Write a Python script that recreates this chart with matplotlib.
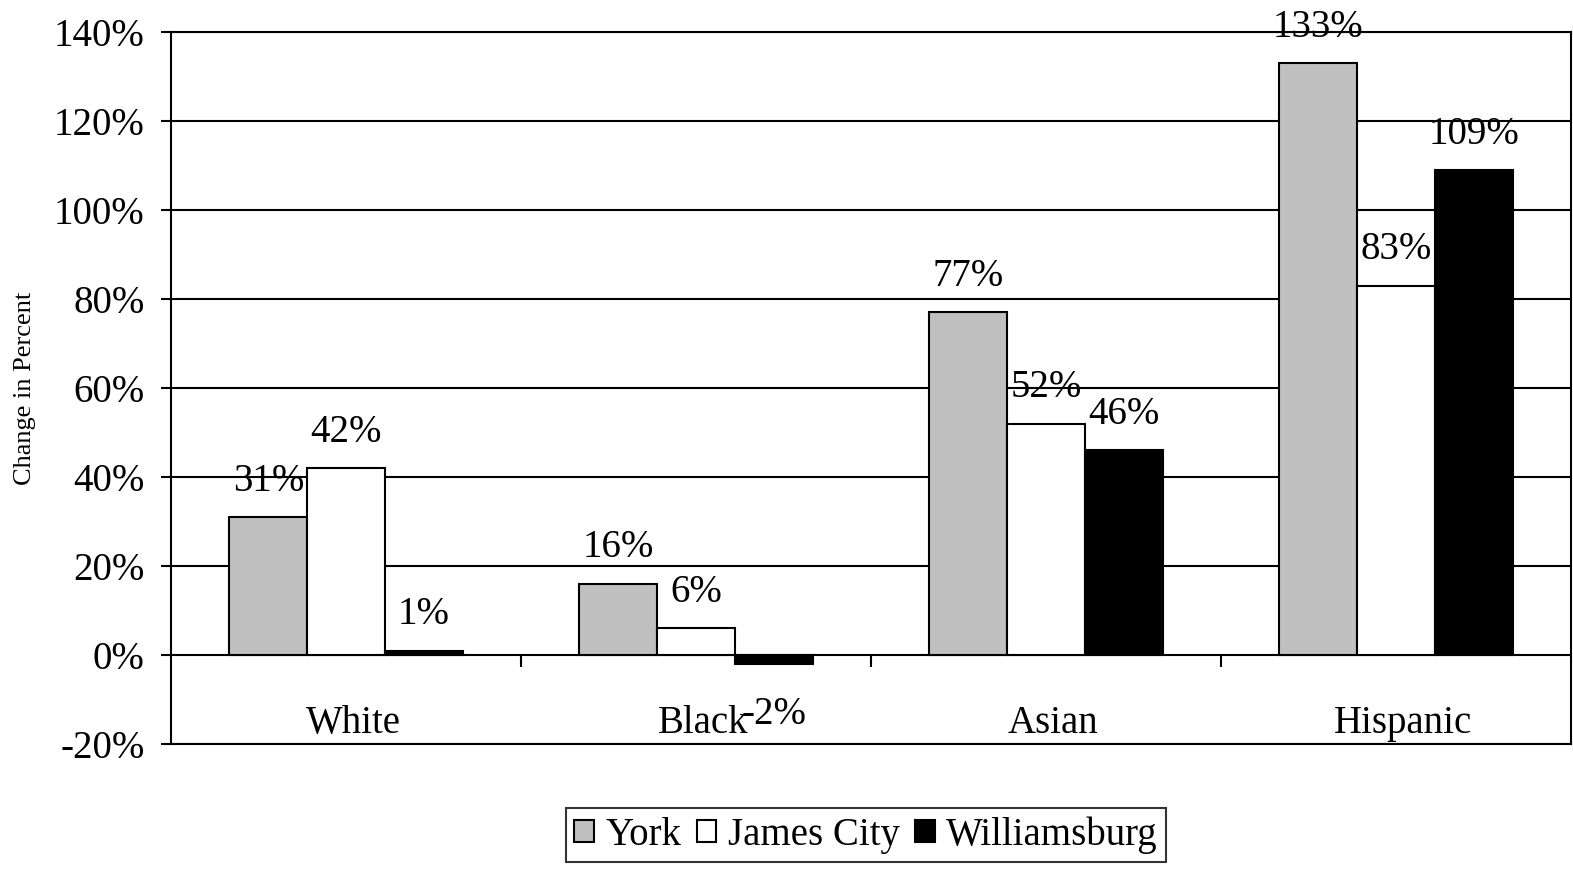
import numpy as np
import matplotlib
matplotlib.use('Agg')
import matplotlib.pyplot as plt

plt.rcParams['font.family'] = ['Liberation Serif', 'DejaVu Serif']

# data
categories = ['White', 'Black', 'Asian', 'Hispanic']
york = [31, 16, 77, 133]
james_city = [42, 6, 52, 83]
williamsburg = [1, -2, 46, 109]
series_names = ['York', 'James City', 'Williamsburg']
yticks = [-20, 0, 20, 40, 60, 80, 100, 120, 140]

fig = plt.figure(figsize=(15.73, 8.71), dpi=100)
ax = fig.add_axes([171 / 1573, 1 - 744 / 871, 1400 / 1573, 712 / 871])

x = np.arange(len(categories))
w = 0.222
colors = ['#c0c0c0', 'white', 'black']
fs = 28

# gridlines first so the bars sit on top
for t in yticks:
    ax.axhline(t, color='black', lw=1.5, zorder=1)

for i, (vals, c) in enumerate(zip([york, james_city, williamsburg], colors)):
    bars = ax.bar(x + (i - 1) * w, vals, w, color=c, edgecolor='black',
                  lw=1.5, label=series_names[i], zorder=2)
    for b, v in zip(bars, vals):
        cx = b.get_x() + b.get_width() / 2
        if v >= 0:
            ax.annotate('%d%%' % v, (cx, v), xytext=(0, 19), textcoords='offset points',
                        ha='center', va='baseline', fontsize=fs, zorder=3)
        else:
            ax.annotate('%d%%' % v, (cx, v), xytext=(0, -43), textcoords='offset points',
                        ha='center', va='baseline', fontsize=fs, zorder=3)

# category names sit inside the plot below the zero line
for xi, name in zip(x, categories):
    ax.text(xi + 0.02, -15.4, name, ha='center', va='center', fontsize=fs)

# little ticks on the zero line between categories
ax.vlines(x[:-1] + 0.5, -2.7, 0, color='black', lw=1.5, zorder=1)

ax.set_xlim(-0.5, len(categories) - 0.5)
ax.set_ylim(-20, 140)
ax.set_xticks([])
ax.set_yticks(yticks)
ax.set_yticklabels(['%d%%' % t for t in yticks], fontsize=fs)
ax.tick_params(axis='y', direction='out', length=7, width=1.5, pad=12)
for s in ax.spines.values():
    s.set_linewidth(1.5)
    s.set_color('black')

fig.text(25 / 1573, 1 - 388 / 871, 'Change in Percent', rotation=90,
         ha='center', va='center', fontsize=19)

leg = fig.legend(loc='center', bbox_to_anchor=(866 / 1573, 1 - 835 / 871), ncol=3,
                 fontsize=fs, frameon=True, fancybox=False, edgecolor='black',
                 handlelength=0.5, handleheight=0.5, handletextpad=0.3,
                 columnspacing=0.4, borderpad=0.2, borderaxespad=0)
leg.get_frame().set_linewidth(1.5)

plt.savefig('out.png', dpi=100)
